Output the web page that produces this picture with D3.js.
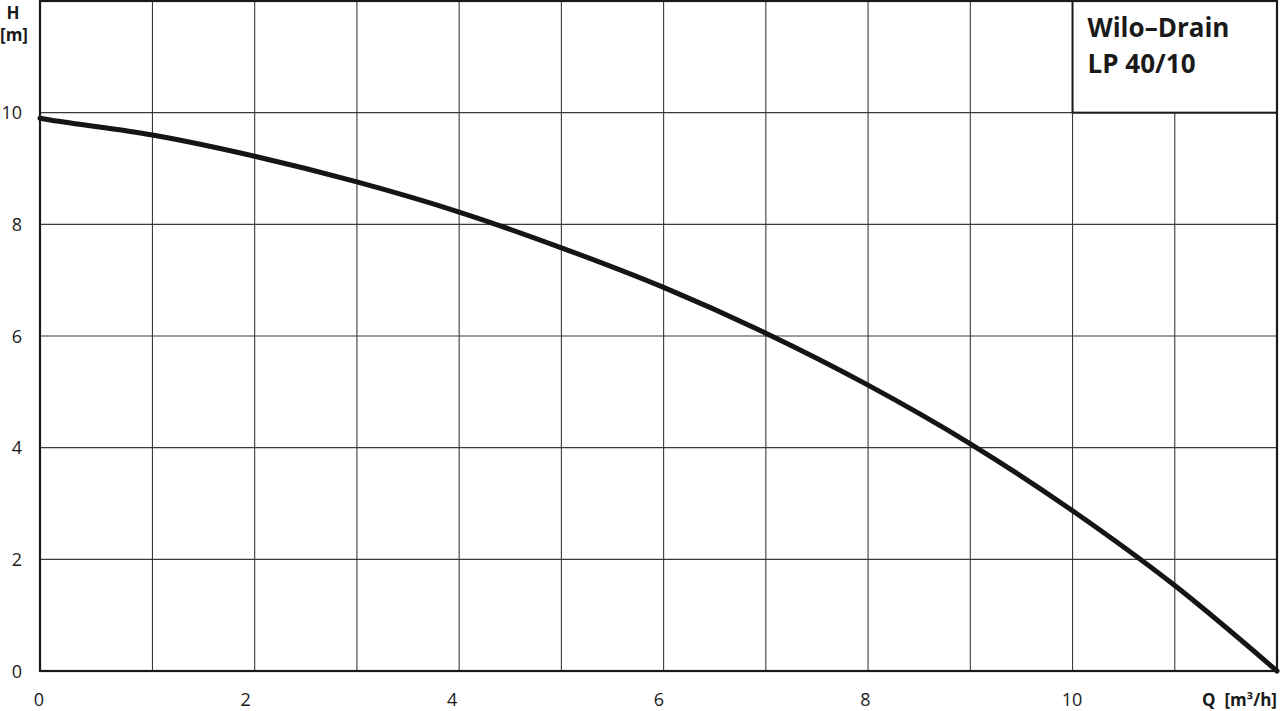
<!DOCTYPE html>
<html><head><meta charset="utf-8">
<script src="https://cdn.jsdelivr.net/npm/d3@7"></script>
<style>
html,body{margin:0;padding:0;background:#fff;}
svg text{font-family:"Open Sans","Noto Sans",sans-serif;fill:#1a1a1a;}
</style></head>
<body>
<svg id="chart" width="1280" height="711"></svg>
<script>
// Data
const flowQ   = [-0.1, 0, 1, 2, 3, 4, 5, 6, 7, 8, 9, 10, 11, 12];
const headH   = [9.90, 9.87, 9.60, 9.22, 8.76, 8.22, 7.58, 6.87, 6.05, 5.12, 4.07, 2.87, 1.53, 0];
const xGrid   = [1, 2, 3, 4, 5, 6, 7, 8, 9, 10, 11];
const yGrid   = [2, 4, 6, 8, 10];
const xTickLabels = [0, 2, 4, 6, 8, 10];
const yTickLabels = [0, 2, 4, 6, 8, 10];
const titleLines = ["Wilo\u2013Drain", "LP 40/10"];

const svg = d3.select("#chart");
const L = 40, R = 1277, T = 1, B = 671;
const x = d3.scaleLinear().domain([-0.1, 12]).range([L, R]);
const y = d3.scaleLinear().domain([0, 12]).range([B, T]);
// tick labels in the reference sit slightly left of the grid lines
const xLab = d3.scaleLinear().domain([0, 10]).range([39, 1072]);

// grid
svg.append("g").selectAll("line").data(xGrid).join("line")
  .attr("x1", d => x(d)).attr("x2", d => x(d))
  .attr("y1", T).attr("y2", B)
  .attr("stroke", "#3a3a3a").attr("stroke-width", 1.1);
svg.append("g").selectAll("line").data(yGrid).join("line")
  .attr("x1", L).attr("x2", R)
  .attr("y1", d => y(d)).attr("y2", d => y(d))
  .attr("stroke", "#3a3a3a").attr("stroke-width", 1.1);

// title box
const bx = x(10), by = y(10);
svg.append("rect").attr("x", bx).attr("y", T).attr("width", R - bx).attr("height", by - T)
  .attr("fill", "#fff").attr("stroke", "#1a1a1a").attr("stroke-width", 2);
svg.append("g").selectAll("text").data(titleLines).join("text")
  .attr("x", bx + 15).attr("y", (d, i) => 37 + i * 36)
  .attr("font-size", 26).attr("font-weight", 700)
  .text(d => d);

// frame
svg.append("rect").attr("x", L).attr("y", T).attr("width", R - L).attr("height", B - T)
  .attr("fill", "none").attr("stroke", "#1a1a1a").attr("stroke-width", 2.2);

// curve
const line = d3.line().x((d, i) => x(flowQ[i])).y(d => y(d)).curve(d3.curveMonotoneX);
svg.append("path").datum(headH).attr("d", line)
  .attr("fill", "none").attr("stroke", "#161414").attr("stroke-width", 5)
  .attr("stroke-linecap", "round");

// y tick labels
svg.append("g").selectAll("text").data(yTickLabels).join("text")
  .attr("x", 22).attr("y", d => y(d) + 6.5)
  .attr("text-anchor", "end").attr("font-size", 18)
  .text(d => d);

// x tick labels
svg.append("g").selectAll("text").data(xTickLabels).join("text")
  .attr("x", d => xLab(d)).attr("y", 706)
  .attr("text-anchor", "middle").attr("font-size", 18)
  .text(d => d);

// axis titles
svg.append("text").attr("x", 13).attr("y", 19).attr("text-anchor", "middle")
  .attr("font-size", 17).attr("font-weight", 700).text("H");
svg.append("text").attr("x", 14).attr("y", 41).attr("text-anchor", "middle")
  .attr("font-size", 17).attr("font-weight", 700).text("[m]");
svg.append("text").attr("x", 1277).attr("y", 706).attr("text-anchor", "end")
  .attr("font-size", 17).attr("font-weight", 700).attr("xml:space", "preserve")
  .text("Q  [m\u00B3/h]");
</script>
</body></html>
